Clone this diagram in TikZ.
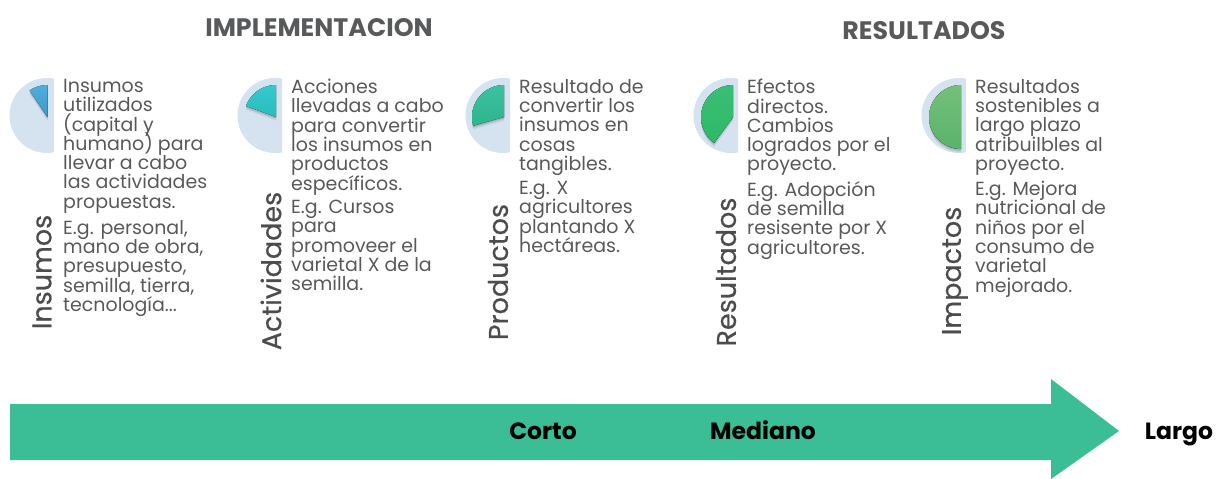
\documentclass[tikz,border=0pt]{standalone}
\usepackage{fontspec}
\setmainfont{Poppins}
\newfontfamily\heavier[FakeBold=0.5]{Poppins}
\definecolor{txt}{HTML}{58595B}
\definecolor{disc}{HTML}{D5E2F0}
\definecolor{bar}{HTML}{3BBD96}
\definecolor{wa}{HTML}{4FAEDD}\definecolor{wb}{HTML}{3E9BCB}
\definecolor{xa}{HTML}{35C8CE}\definecolor{xb}{HTML}{2ABDBE}
\definecolor{ya}{HTML}{3CC1A0}\definecolor{yb}{HTML}{2DB58D}
\definecolor{za}{HTML}{3ABF74}\definecolor{zb}{HTML}{2EB869}
\definecolor{ua}{HTML}{74C07A}\definecolor{ub}{HTML}{5BB26B}
\newcommand{\piechart}[6]{%
 % #1 name, #2 disc cx, #3 wedge x, #4 end angle, #5 top colour, #6 bottom colour
 \begin{scope}
  \clip (#2-40,75) rectangle (#2+7,156);
  \fill[disc] (#2,115.5) circle[radius=37.5];
 \end{scope}
 \foreach \o/\a in {4/.04,3/.05,2/.07,1/.09}{
  \fill[black,opacity=\a] (#3,117+\o) -- plot[domain=90:#4,samples=30] ({#3+32*cos(\x)},{117+\o-32*sin(\x)}) -- cycle;
 }
 \fill[top color=#5,bottom color=#6] (#3,117) -- plot[domain=90:#4,samples=30] ({#3+32*cos(\x)},{117-32*sin(\x)}) -- cycle;
 \coordinate (#1) at (#3,117);
}
\tikzset{
 x=1pt,y=-1pt,
 body/.style={anchor=north west,inner sep=0pt,align=left,text=txt,font=\fontsize{19}{19.3}\selectfont,
   execute at begin node={\lineskiplimit=-100pt\relax\rule{0pt}{14pt}}},
 vlabel/.style={rotate=90,anchor=center,inner sep=0pt,text=txt!85!black,font=\heavier\fontsize{27}{30}\selectfont},
 head/.style={anchor=center,inner sep=0pt,text=txt,font=\fontsize{25.3}{29}\selectfont\bfseries},
 time/.style={anchor=base,inner sep=0pt,text=black,font=\fontsize{23.5}{27}\selectfont\bfseries}
}
\begin{document}
\begin{tikzpicture}
\useasboundingbox (0,0) rectangle (1218,479);
\node[head] (himp) at (319,28) {IMPLEMENTACION};
\node[head] (hres) at (924,31) {RESULTADOS};
\piechart{p1}{47}{47.5}{124}{wa}{wb}
\piechart{p2}{275}{276}{160}{xa}{xb}
\piechart{p3}{503}{504}{196}{ya}{yb}
\piechart{p4}{731}{733}{234}{za}{zb}
\piechart{p5}{959}{961}{270}{ua}{ub}
\node[vlabel] (v1) at (42,272) {Insumos};
\node[vlabel] (v2) at (271,271) {Actividades};
\node[vlabel] (v3) at (498,272) {Productos};
\node[vlabel] (v4) at (726,272) {Resultados};
\node[vlabel] (v5) at (955,271) {Impactos};
\node[body] (a1) at (63,79) {Insumos\\utilizados\\(capital y\\humano) para\\llevar a cabo\\las actividades\\propuestas.};
\node[body] (b1) at (63,220) {E.g. personal,\\mano de obra,\\presupuesto,\\semilla, tierra,\\tecnología...};
\node[body] (a2) at (291,79) {Acciones\\llevadas a cabo\\para convertir\\los insumos en\\productos\\específicos.};
\node[body] (b2) at (291,200) {E.g. Cursos\\para\\promoveer el\\varietal X de la\\semilla.};
\node[body] (a3) at (519,79) {Resultado de\\convertir los\\insumos en\\cosas\\tangibles.};
\node[body] (b3) at (519,181) {E.g. X\\agricultores\\plantando X\\hectáreas.};
\node[body] (a4) at (747,79) {Efectos\\directos.\\Cambios\\logrados por el\\proyecto.};
\node[body] (b4) at (747,181) {E.g. Adopción\\de semilla\\resisente por X\\agricultores.};
\node[body] (a5) at (975,79) {Resultados\\sostenibles a\\largo plazo\\atribuilbles al\\proyecto.};
\node[body] (b5) at (975,181) {E.g. Mejora\\nutricional de\\niños por el\\consumo de\\varietal\\mejorado.};
\fill[bar] (10,404) -- (1051,404) -- (1051,379) -- (1119,431) -- (1051,479) -- (1051,460) -- (10,460) -- cycle;
\node[time] (t1) at (543,439) {Corto};
\node[time] (t2) at (763,439) {Mediano};
\node[time] (t3) at (1179,439) {Largo};
\end{tikzpicture}
\end{document}
